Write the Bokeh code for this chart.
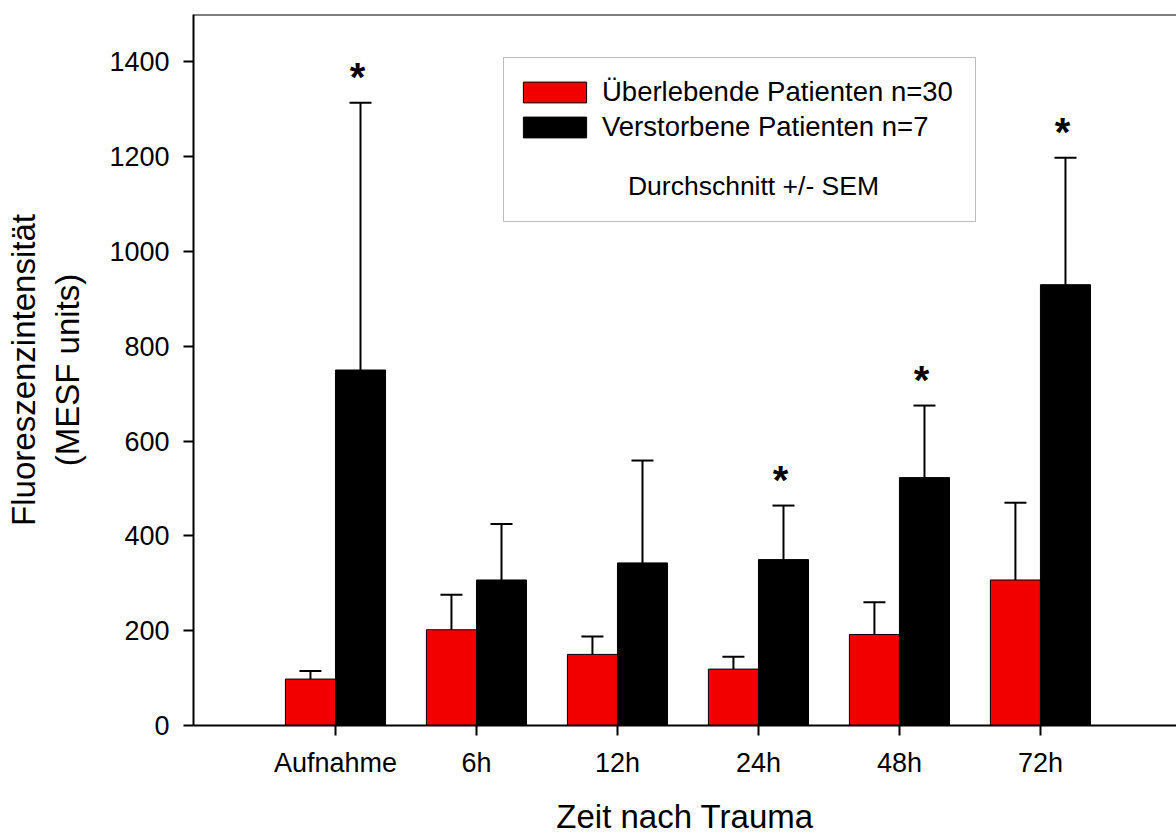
from bokeh.plotting import figure
from bokeh.models import (Range1d, FixedTicker, Whisker, TeeHead, ColumnDataSource,
                          Legend, LegendItem, BoxAnnotation, Label, Span)
from bokeh.core.properties import value
from bokeh.embed import file_html
from bokeh.resources import INLINE

# ---- data ----
categories = ["Aufnahme", "6h", "12h", "24h", "48h", "72h"]
survivors_mean = [98, 202, 150, 119, 192, 307]
survivors_sem = [17, 74, 38, 26, 68, 163]
deceased_mean = [750, 307, 343, 350, 523, 930]
deceased_sem = [564, 118, 216, 114, 152, 268]
significant = [True, False, False, True, True, True]
y_ticks = [0, 200, 400, 600, 800, 1000, 1200, 1400]
survivors_label = "Überlebende Patienten n=30"
deceased_label = "Verstorbene Patienten n=7"
note_label = "Durchschnitt +/- SEM"

FONT = "Liberation Sans"
RED = "#F20000"
BAR_W = 0.355
idx = list(range(len(categories)))

src_s = ColumnDataSource(dict(
    x=[i - BAR_W / 2 for i in idx], top=survivors_mean,
    cap=[m + e for m, e in zip(survivors_mean, survivors_sem)]))
src_d = ColumnDataSource(dict(
    x=[i + BAR_W / 2 for i in idx], top=deceased_mean,
    cap=[m + e for m, e in zip(deceased_mean, deceased_sem)]))
sig_i = [i for i in idx if significant[i]]
src_star = ColumnDataSource(dict(
    x=[i + BAR_W / 2 for i in sig_i],
    y=[deceased_mean[i] + deceased_sem[i] for i in sig_i],
    t=["*"] * len(sig_i)))

p = figure(width=1176, height=837, x_range=Range1d(-1.007, 5.965), y_range=Range1d(0, 1500),
           output_backend="svg", toolbar_location=None,
           min_border_left=193, min_border_right=0, min_border_top=14, min_border_bottom=112)
p.outline_line_color = None
p.xgrid.visible = False
p.ygrid.visible = False
p.background_fill_color = "white"
p.border_fill_color = "white"

r_s = p.vbar(x="x", top="top", bottom=0, width=BAR_W, source=src_s,
             fill_color=RED, line_color="black", line_width=1)
r_d = p.vbar(x="x", top="top", bottom=0, width=BAR_W, source=src_d,
             fill_color="black", line_color="black", line_width=1)

for src in (src_s, src_d):
    w = Whisker(source=src, base="x", lower="top", upper="cap", dimension="height",
                line_color="black", line_width=2, lower_head=None,
                upper_head=TeeHead(size=22, line_width=2, line_color="black"))
    p.add_layout(w)

p.text(x="x", y="y", text="t", source=src_star, text_font=value(FONT), text_font_style="bold",
       text_font_size="40px", text_align="center", text_baseline="alphabetic",
       x_offset=-3, y_offset=-26, text_color="black")

# top frame line
p.add_layout(Span(location=1500, dimension="width", line_color="black", line_width=2))

# axes
xa = p.xaxis[0]
xa.ticker = FixedTicker(ticks=idx)
xa.major_label_overrides = {i: c for i, c in enumerate(categories)}
xa.axis_label = "Zeit nach Trauma"
ya = p.yaxis[0]
ya.ticker = FixedTicker(ticks=y_ticks)
ya.axis_label = "Fluoreszenzintensität\n(MESF units)"
for ax in (xa, ya):
    ax.axis_line_width = 2
    ax.axis_line_color = "black"
    ax.major_tick_line_width = 2
    ax.major_tick_line_color = "black"
    ax.major_tick_in = 0
    ax.major_tick_out = 10
    ax.minor_tick_line_color = None
    ax.major_label_text_font = FONT
    ax.major_label_text_font_size = "27px"
    ax.major_label_text_color = "black"
    ax.axis_label_text_font = FONT
    ax.axis_label_text_font_size = "33px"
    ax.axis_label_text_font_style = "normal"
    ax.axis_label_text_color = "black"
xa.major_label_standoff = 12
ya.major_label_standoff = 14
xa.axis_label_standoff = 17
ya.axis_label_standoff = 20

# legend box
p.add_layout(BoxAnnotation(left=310, right=782, bottom=504, top=668,
                           left_units="screen", right_units="screen",
                           bottom_units="screen", top_units="screen",
                           fill_color="white", fill_alpha=1, line_color="#222222", line_width=1))
legend = Legend(items=[LegendItem(label=survivors_label, renderers=[r_s]),
                       LegendItem(label=deceased_label, renderers=[r_d])],
                location=(322, 582), padding=0, margin=0, spacing=3,
                glyph_width=79, glyph_height=26, label_standoff=8,
                label_text_font=FONT, label_text_font_size="27.5px", label_text_color="black",
                border_line_color=None, background_fill_alpha=0)
p.add_layout(legend)
p.add_layout(Label(x=560, y=540, x_units="screen", y_units="screen", text=note_label,
                   text_font=FONT, text_font_size="26.5px", text_align="center",
                   text_baseline="middle", text_color="black"))

open("out.html", "w").write(file_html(p, INLINE))
